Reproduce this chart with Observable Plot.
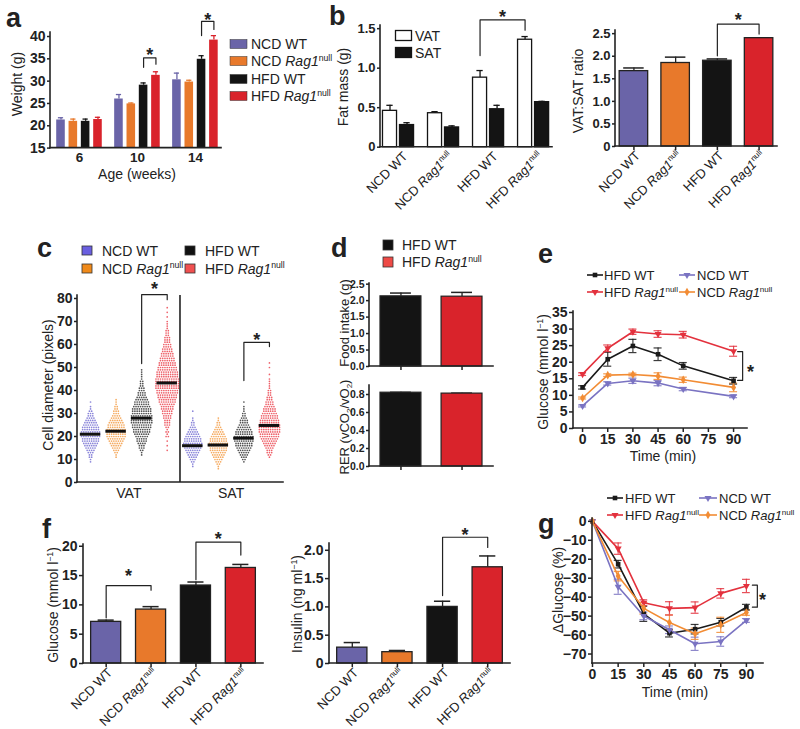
<!DOCTYPE html>
<html><head><meta charset="utf-8">
<script src="https://cdn.jsdelivr.net/npm/d3@7"></script>
<script src="https://cdn.jsdelivr.net/npm/@observablehq/plot@0.6"></script>
<style>
html,body{margin:0;padding:0;background:#fff;}
#fig{position:relative;width:800px;height:729px;overflow:hidden;font-family:"Liberation Sans",Arial,Helvetica,sans-serif;color:#222;background:#fff;}
#fig svg{position:absolute;overflow:visible;background:none;}
#fig g[aria-label$="tick"]{stroke-width:1.5px;}
</style></head><body><div id="fig"></div>
<script>
// ---------------- DATA ----------------
const groups = ["NCD WT", "NCD Rag1null", "HFD WT", "HFD Rag1null"];
const groupColors = ["#6a64a8", "#e8792b", "#141414", "#d9232b"];

// (a) body weight by age
const ages = [6, 10, 14];
const weightWk6 = [21.3, 21.0, 21.0, 21.4];
const weightWk10 = [26.0, 24.9, 29.1, 31.3];
const weightWk14 = [30.3, 29.8, 34.9, 39.2];
const weightErrWk6 = [0.5, 0.5, 0.5, 0.5];
const weightErrWk10 = [1.0, 0.2, 0.5, 0.8];
const weightErrWk14 = [1.5, 0.4, 0.8, 1.0];
const weightTicks = [15, 20, 25, 30, 35, 40];
const weightSig = [
  {age: 1, left: 33.1, top: 35.2, right: 33.8, star: 36.7},
  {age: 2, left: 40.2, top: 43.4, right: 41.6, star: 44.6}
];

// (b) fat mass and VAT:SAT ratio
const vatMass = [0.46, 0.43, 0.88, 1.36];
const vatErr = [0.07, 0.02, 0.09, 0.04];
const satMass = [0.28, 0.25, 0.48, 0.57];
const satErr = [0.03, 0.02, 0.05, 0.01];
const fatTicks = [0, 0.5, 1.0, 1.5];
const fatSig = [{from: 2, to: 3, left: 1.16, top: 1.61, right: 1.48, star: 1.70}];
const ratioVals = [1.67, 1.85, 1.90, 2.40];
const ratioErr = [0.07, 0.13, 0.04, 0.01];
const ratioTicks = [0, 0.5, 1.0, 1.5, 2.0, 2.5];
const ratioSig = [{from: "HFD WT", to: "HFD Rag1null", left: 2.01, top: 2.71, right: 2.49, star: 2.90}];

// (c) adipocyte diameter: number of cells per diameter (pixels), from the start value up
const depots = ["VAT", "SAT"];
const cellStart = [9, 11, 12, 14, 7, 6, 9, 11];
const cellVatNcdWt = [1,1,2,2,3,4,5,6,7,8,8,9,9,9,8,8,7,6,5,4,3,3,2,1,1,0,1];
const cellVatNcdRag = [1,1,2,3,4,5,6,7,8,9,9,9,9,8,8,7,6,5,4,3,3,2,2,1,1,1];
const cellVatHfdWt = [1,1,2,3,3,4,5,5,6,7,8,8,9,9,10,10,10,10,9,9,9,8,7,7,6,5,4,4,3,3,2,2,2,1,1,1,1,1];
const cellVatHfdRag = [1,0,1,0,1,0,2,1,2,1,2,3,3,3,4,4,5,5,6,6,7,8,8,9,9,10,10,11,11,11,11,11,10,10,10,9,9,8,8,7,7,6,6,5,5,4,4,3,3,3,2,2,2,1,1,1,1,0,1,0,1,0,1];
const cellSatNcdWt = [1,1,2,3,4,5,6,7,8,9,9,8,8,7,6,5,4,3,2,2,1,1,0,0,1];
const cellSatNcdRag = [1,1,2,3,4,5,6,7,8,8,9,9,8,8,7,6,5,4,3,2,2,1,1];
const cellSatHfdWt = [1,2,3,4,5,6,7,8,8,9,9,9,8,8,7,6,5,4,4,3,2,2,1,1,1,0,1];
const cellSatHfdRag = [1,2,3,3,4,5,6,7,8,9,9,10,10,10,10,9,9,8,8,7,6,6,5,4,4,3,3,2,2,2,1,1,1,1,1,0,1,0,0,1,0,1];
const cellMeans = [21.0, 22.3, 28.0, 43.3, 16.0, 16.3, 19.3, 24.8];
const cellColors = ["#6d66cf", "#f2963a", "#262626", "#ea3a45"];
const cellTicks = [0, 10, 20, 30, 40, 50, 60, 70, 80];
const cellSig = [
  {from: 2, to: 3, left: 51.7, top: 81.7, right: 79.5, star: 85.7},
  {from: 6, to: 7, left: 44.3, top: 60.9, right: 59.1, star: 63.9}
];

// (d) food intake and RER
const hfdGroups = ["HFD WT", "HFD Rag1null"];
const hfdColors = ["#141414", "#d9232b"];
const foodIntake = [2.13, 2.12];
const foodErr = [0.10, 0.13];
const foodTicks = [0, 0.5, 1.0, 1.5, 2.0, 2.5];
const rerVals = [0.82, 0.81];
const rerErr = [0.004, 0.005];
const rerTicks = [0, 0.2, 0.4, 0.6, 0.8];

// (e) glucose tolerance test
const lineSeries = ["HFD WT", "HFD Rag1null", "NCD WT", "NCD Rag1null"];
const lineColors = ["#1a1a1a", "#e3313d", "#7a73c2", "#f28c34"];
const lineSymbols = ["square", "triangle", "triangle", "diamond"];
const lineRotate = [0, 180, 180, 0];
const gttTimes = [0, 15, 30, 45, 60, 90];
const gttHfdWt = [12.4, 20.9, 24.9, 22.4, 18.9, 14.4];
const gttHfdRag = [16.4, 24.2, 29.2, 28.5, 28.3, 23.3];
const gttNcdWt = [6.8, 13.6, 14.4, 13.7, 11.9, 9.7];
const gttNcdRag = [9.2, 16.1, 16.3, 15.8, 14.7, 12.4];
const gttHfdWtErr = [0.5, 2.1, 2.0, 1.9, 1.0, 1.0];
const gttHfdRagErr = [0.4, 1.0, 0.8, 1.0, 1.0, 1.5];
const gttNcdWtErr = [0.3, 0.5, 0.8, 0.8, 0.5, 0.4];
const gttNcdRagErr = [0.3, 0.4, 0.4, 1.0, 0.8, 1.3];
const gttTicksY = [0, 5, 10, 15, 20, 25, 30, 35];
const timeTicks = [0, 15, 30, 45, 60, 75, 90];

// (f) fasting glucose and insulin
const fastGlucose = [7.1, 9.2, 13.3, 16.3];
const fastGlucoseErr = [0.3, 0.5, 0.6, 0.6];
const fastGlucoseTicks = [0, 5, 10, 15, 20];
const fastGlucoseSig = [
  {from: "NCD WT", to: "NCD Rag1null", left: 7.8, top: 13.3, right: 12.5, star: 15.7},
  {from: "HFD WT", to: "HFD Rag1null", left: 14.3, top: 20.7, right: 18.5, star: 22.0}
];
const insulinVals = [0.28, 0.20, 1.00, 1.70];
const insulinErr = [0.09, 0.03, 0.10, 0.20];
const insulinTicks = [0, 0.5, 1.0, 1.5, 2.0];
const insulinSig = [{from: "HFD WT", to: "HFD Rag1null", left: 1.2, top: 2.23, right: 2.05, star: 2.34}];

// (g) insulin tolerance test
const ittTimes = [0, 15, 30, 45, 60, 75, 90];
const ittHfdWt = [0, -22.6, -48.8, -59.0, -56.9, -53.2, -45.3];
const ittHfdRag = [0, -14.4, -42.9, -45.9, -45.5, -38.0, -34.1];
const ittNcdWt = [0, -34.5, -49.9, -57.2, -64.6, -63.4, -52.3];
const ittNcdRag = [0, -28.9, -45.9, -53.4, -59.3, -54.6, -48.1];
const ittHfdWtErr = [0, 2.0, 4.0, 2.0, 2.5, 2.0, 1.5];
const ittHfdRagErr = [0, 3.0, 1.5, 3.5, 3.0, 2.5, 3.5];
const ittNcdWtErr = [0, 4.0, 2.0, 2.0, 3.5, 2.5, 1.0];
const ittNcdRagErr = [0, 2.5, 3.0, 4.0, 3.0, 4.0, 1.5];
const ittTicksY = [0, -10, -20, -30, -40, -50, -60, -70];

// ---------------- HELPERS ----------------
const NS = "http://www.w3.org/2000/svg";
const root = document.getElementById("fig");
const FONT = '"Liberation Sans", Arial, Helvetica, sans-serif';
const AX = "#222";
const fmt0 = d => d === 0 ? "0" : d.toFixed(1);
const fmt1 = d => d.toFixed(1);
const rich = s => s.replace("Rag1null", "_Rag1_^null^");

function fillRich(t, s, size) {
  const parts = s.split(/(_[^_]+_|\^[^^]+\^|~[^~]+~)/).filter(p => p);
  let shift = 0;
  for (const p of parts) {
    const ts = document.createElementNS(NS, "tspan");
    let dy = 0, txt = p;
    if (p[0] === "_") { txt = p.slice(1, -1); ts.setAttribute("font-style", "italic"); dy = -shift; shift = 0; }
    else if (p[0] === "^") { txt = p.slice(1, -1); ts.setAttribute("font-size", size * 0.62); dy = -size * 0.38 - shift; shift = -size * 0.38; }
    else if (p[0] === "~") { txt = p.slice(1, -1); ts.setAttribute("font-size", size * 0.62); dy = size * 0.22 - shift; shift = size * 0.22; }
    else { dy = -shift; shift = 0; }
    if (dy) ts.setAttribute("dy", dy);
    ts.textContent = txt;
    t.appendChild(ts);
  }
}
function richify(svg, size) {
  svg.querySelectorAll("text").forEach(t => {
    if (t.querySelector("tspan")) return;
    const s = t.textContent;
    if (!/[_^~]/.test(s)) return;
    t.textContent = "";
    fillRich(t, s, size);
  });
}
function addLine(g, x1, y1, x2, y2) {
  const l = document.createElementNS(NS, "line");
  l.setAttribute("x1", x1); l.setAttribute("y1", y1); l.setAttribute("x2", x2); l.setAttribute("y2", y2);
  g.appendChild(l);
}
function chart(frame, opts, {xBold = false, xSize = 13, ySize = 13} = {}) {
  const pad = {t: 40, r: 40, b: 90, l: 50};
  const [x0, x1, y0, y1] = frame;
  const w = x1 - x0 + pad.l + pad.r, h = y1 - y0 + pad.t + pad.b;
  const svg = Plot.plot({
    width: w, height: h,
    marginTop: pad.t, marginRight: pad.r, marginBottom: pad.b, marginLeft: pad.l,
    style: {fontFamily: FONT, background: "none", color: AX, overflow: "visible"},
    ...opts
  });
  svg.style.position = "absolute";
  svg.style.left = (x0 - pad.l) + "px";
  svg.style.top = (y0 - pad.t) + "px";
  svg.style.maxWidth = "none";
  svg.style.background = "none";
  const g = document.createElementNS(NS, "g");
  g.setAttribute("stroke", AX); g.setAttribute("stroke-width", 1.6); g.setAttribute("stroke-linecap", "square");
  addLine(g, pad.l, pad.t, pad.l, h - pad.b);
  addLine(g, pad.l, h - pad.b, w - pad.r, h - pad.b);
  svg.appendChild(g);
  svg.querySelectorAll('g[aria-label="y-axis tick label"]').forEach(n => { n.style.fontWeight = "bold"; n.style.fontSize = ySize + "px"; });
  svg.querySelectorAll('g[aria-label="x-axis tick label"]').forEach(n => { n.style.fontWeight = xBold ? "bold" : "normal"; n.style.fontSize = xSize + "px"; });
  root.appendChild(svg);
  richify(svg, xSize);
  return svg;
}
const bracketRows = list => list.flatMap((b, k) => b.map(([x, y]) => ({k, x, y})));
const star = (data, x, extra = {}) => Plot.text(data, {x, y: "star", text: () => "*", fontSize: 18, fontWeight: "bold", fill: AX, dy: 4.3, ...extra});
const brLine = rows => Plot.line(rows, {x: "x", y: "y", z: "k", stroke: AX, strokeWidth: 1.2});
const rotLabels = (extra = {}) => Plot.axisX({tickFormat: rich, tickRotate: -45, tickSize: 0, tickPadding: 7, fontSize: 13, label: null, dx: 4, ...extra});

// ---------------- (a) ----------------
const aOff = [-0.319, -0.106, 0.106, 0.319], aHalf = 0.074;
const weightMeans = [weightWk6, weightWk10, weightWk14];
const weightErrs = [weightErrWk6, weightErrWk10, weightErrWk14];
const weightRows = ages.flatMap((age, ai) => groups.map((g, gi) => ({x: ai + aOff[gi], v: weightMeans[ai][gi], e: weightErrs[ai][gi], c: groupColors[gi]})));
chart([50, 221, 31.7, 147.3], {
  x: {type: "linear", domain: [-0.5, 2.45]},
  y: {domain: [15, 40.9]},
  marks: [
    Plot.ruleX(weightRows, {x: "x", y1: "v", y2: d => d.v + d.e, stroke: "c", strokeWidth: 1.3}),
    Plot.ruleY(weightRows, {x1: d => d.x - 0.045, x2: d => d.x + 0.045, y: d => d.v + d.e, stroke: "c", strokeWidth: 1.3}),
    Plot.rect(weightRows, {x1: d => d.x - aHalf, x2: d => d.x + aHalf, y1: 15, y2: "v", fill: "c"}),
    brLine(bracketRows(weightSig.map(s => [[s.age + aOff[2], s.left], [s.age + aOff[2], s.top], [s.age + aOff[3], s.top], [s.age + aOff[3], s.right]]))),
    star(weightSig, s => s.age + (aOff[2] + aOff[3]) / 2),
    Plot.axisY({ticks: weightTicks, tickSize: 3, tickPadding: 2, fontSize: 14, label: null}),
    Plot.axisX({ticks: [0, 1, 2], tickFormat: i => String(ages[i]), tickSize: 0, tickPadding: 4, fontSize: 13, label: null})
  ]
}, {xBold: true, xSize: 13.5, ySize: 14});

// ---------------- (b) left ----------------
const bOff = [-0.189, 0.189], bHalf = 0.156;
const fatRows = groups.flatMap((g, gi) => [
  {x: gi + bOff[0], v: vatMass[gi], e: vatErr[gi], c: "#ffffff"},
  {x: gi + bOff[1], v: satMass[gi], e: satErr[gi], c: "#141414"}
]);
chart([380, 552, 25, 146.7], {
  x: {type: "linear", domain: [-0.4, 3.42]},
  y: {domain: [0, 1.54]},
  marks: [
    Plot.ruleX(fatRows, {x: "x", y1: "v", y2: d => d.v + d.e, stroke: "#141414", strokeWidth: 1.3}),
    Plot.ruleY(fatRows, {x1: d => d.x - 0.07, x2: d => d.x + 0.07, y: d => d.v + d.e, stroke: "#141414", strokeWidth: 1.3}),
    Plot.rect(fatRows, {x1: d => d.x - bHalf, x2: d => d.x + bHalf, y1: 0, y2: "v", fill: "c", stroke: "#141414", strokeWidth: 1.3}),
    brLine(bracketRows(fatSig.map(s => [[s.from + bOff[0], s.left], [s.from + bOff[0], s.top], [s.to + bOff[0], s.top], [s.to + bOff[0], s.right]]))),
    star(fatSig, s => (s.from + s.to) / 2 + bOff[0]),
    Plot.axisY({ticks: fatTicks, tickFormat: fmt0, tickSize: 3, tickPadding: 2, fontSize: 13, label: null}),
    rotLabels({ticks: [0, 1, 2, 3], tickFormat: i => rich(groups[i]), dx: 7})
  ]
});

// ---------------- (b) right ----------------
const ratioRows = groups.map((g, i) => ({g, v: ratioVals[i], e: ratioErr[i], c: groupColors[i]}));
chart([615, 777, 30, 146], {
  x: {type: "band", domain: groups, paddingInner: 0.317, paddingOuter: 0.1, round: false},
  y: {domain: [0, 2.57]},
  marks: [
    Plot.ruleX(ratioRows, {x: "g", y1: "v", y2: d => d.v + d.e, stroke: "#222", strokeWidth: 1.3}),
    Plot.tickY(ratioRows, {x: "g", y: d => d.v + d.e, insetLeft: 4, insetRight: 4, stroke: "#222", strokeWidth: 1.3}),
    Plot.barY(ratioRows, {x: "g", y: "v", fill: "c", stroke: "#222", strokeWidth: 1.3}),
    brLine(bracketRows(ratioSig.map(s => [[s.from, s.left], [s.from, s.top], [s.to, s.top], [s.to, s.right]]))),
    star(ratioSig, "from", {dx: 20.9}),
    Plot.axisY({ticks: ratioTicks, tickFormat: fmt0, tickSize: 3, tickPadding: 2, fontSize: 13, label: null}),
    Plot.axisX({tickFormat: () => "", tickSize: 4, label: null}),
    rotLabels()
  ]
});

// ---------------- (c) ----------------
const cellCounts = [cellVatNcdWt, cellVatNcdRag, cellVatHfdWt, cellVatHfdRag, cellSatNcdWt, cellSatNcdRag, cellSatHfdWt, cellSatHfdRag];
const cellStep = 0.088;
const cellDots = cellCounts.flatMap((counts, gi) => counts.flatMap((n, j) =>
  Array.from({length: n}, (_, k) => ({x: gi + (k - (n - 1) / 2) * cellStep, y: cellStart[gi] + j, c: cellColors[gi % 4]}))));
const cellMeanRows = cellMeans.map((m, gi) => ({gi, m}));
chart([77, 283, 295, 482], {
  x: {type: "linear", domain: [-0.51, 7.55]},
  y: {domain: [0, 81.3]},
  marks: [
    Plot.dot(cellDots, {x: "x", y: "y", r: 0.85, fill: "c", fillOpacity: 0.8}),
    Plot.ruleY(cellMeanRows, {x1: d => d.gi - 0.4, x2: d => d.gi + 0.4, y: "m", stroke: "#111", strokeWidth: 3}),
    Plot.ruleX([3.5], {y1: 0, y2: 81.3, stroke: AX, strokeWidth: 1.6}),
    brLine(bracketRows(cellSig.map(s => [[s.from, s.left], [s.from, s.top], [s.to, s.top], [s.to, s.right]]))),
    star(cellSig, s => (s.from + s.to) / 2),
    Plot.axisY({ticks: cellTicks, tickSize: 3, tickPadding: 2, fontSize: 14, label: null}),
    Plot.axisX({ticks: [1.5, 5.5], tickFormat: d => depots[d < 3.5 ? 0 : 1], tickSize: 0, tickPadding: 6, fontSize: 14, label: null})
  ]
}, {xSize: 14, ySize: 14});

// ---------------- (d) ----------------
const foodRows = hfdGroups.map((g, i) => ({g, v: foodIntake[i], e: foodErr[i], c: hfdColors[i]}));
const rerRows = hfdGroups.map((g, i) => ({g, v: rerVals[i], e: rerErr[i], c: hfdColors[i]}));
const dBand = {type: "band", domain: hfdGroups, paddingInner: 0.33, paddingOuter: 0.18, round: false};
function dChart(frame, rows, domain, ticks) {
  chart(frame, {
    x: dBand, y: {domain},
    marks: [
      Plot.ruleX(rows, {x: "g", y1: "v", y2: d => d.v + d.e, stroke: "#222", strokeWidth: 1.3}),
      Plot.tickY(rows, {x: "g", y: d => d.v + d.e, insetLeft: 10, insetRight: 10, stroke: "#222", strokeWidth: 1.3}),
      Plot.barY(rows, {x: "g", y: "v", fill: "c", stroke: "#222", strokeWidth: 1.2}),
      Plot.axisY({ticks, tickFormat: fmt1, tickSize: 3, tickPadding: 2, fontSize: 10, label: null}),
      Plot.axisX({tickFormat: () => "", tickSize: 4, label: null})
    ]
  }, {ySize: 10.5});
}
dChart([369, 493, 283, 366], foodRows, [0, 2.52], foodTicks);
dChart([369, 493, 385, 466], rerRows, [0, 0.9], rerTicks);

// ---------------- (e) and (g) line charts ----------------
function lineRows(times, values, errs) {
  return lineSeries.flatMap((s, si) => times.map((t, ti) => ({s, t, v: values[si][ti], e: errs[si][ti], c: lineColors[si], sym: lineSymbols[si], rot: lineRotate[si]})));
}
function lineMarks(rows, cap) {
  const er = rows.filter(d => d.e > 0);
  return [
    Plot.ruleX(er, {x: "t", y1: d => d.v - d.e, y2: d => d.v + d.e, stroke: "c", strokeWidth: 1.2, strokeOpacity: 0.85}),
    Plot.ruleY(er, {x1: d => d.t - cap, x2: d => d.t + cap, y: d => d.v + d.e, stroke: "c", strokeWidth: 1.2, strokeOpacity: 0.85}),
    Plot.ruleY(er, {x1: d => d.t - cap, x2: d => d.t + cap, y: d => d.v - d.e, stroke: "c", strokeWidth: 1.2, strokeOpacity: 0.85}),
    Plot.line(rows, {x: "t", y: "v", z: "s", stroke: "c", strokeWidth: 1.6}),
    Plot.dot(rows, {x: "t", y: "v", symbol: "sym", fill: "c", r: 2.6, rotate: "rot"})
  ];
}
const gttRows = lineRows(gttTimes, [gttHfdWt, gttHfdRag, gttNcdWt, gttNcdRag], [gttHfdWtErr, gttHfdRagErr, gttNcdWtErr, gttNcdRagErr]);
const gttSig = [{pts: [[92.4, 23.2], [95.4, 23.2], [95.4, 14.5], [92.4, 14.5]], x: 100.1, star: 18.4}];
chart([573, 747, 311, 428], {
  x: {type: "linear", domain: [-5.4, 98.3]},
  y: {domain: [0, 35.3]},
  marks: [
    ...lineMarks(gttRows, 2.4),
    brLine(bracketRows(gttSig.map(s => s.pts))),
    star(gttSig, "x"),
    Plot.axisY({ticks: gttTicksY, tickSize: 4, tickPadding: 2, fontSize: 14, label: null}),
    Plot.axisX({ticks: timeTicks, tickSize: 4, tickPadding: 2, fontSize: 14, label: null})
  ]
}, {xBold: true, xSize: 14, ySize: 14});

const ittRows = lineRows(ittTimes, [ittHfdWt, ittHfdRag, ittNcdWt, ittNcdRag], [ittHfdWtErr, ittHfdRagErr, ittNcdWtErr, ittNcdRagErr]);
const ittSig = [{pts: [[93.5, -33.7], [96.4, -33.7], [96.4, -45.3], [93.5, -45.3]], x: 99.4, star: -39.5}];
chart([592, 763, 518, 663], {
  x: {type: "linear", domain: [0, 100]},
  y: {domain: [-75, 1.5]},
  marks: [
    ...lineMarks(ittRows, 2.3),
    brLine(bracketRows(ittSig.map(s => s.pts))),
    star(ittSig, "x"),
    Plot.axisY({ticks: ittTicksY, tickSize: 4, tickPadding: 2, fontSize: 14, label: null}),
    Plot.axisX({ticks: timeTicks, tickSize: 4, tickPadding: 2, fontSize: 14, label: null})
  ]
}, {xBold: true, xSize: 14, ySize: 14});

// ---------------- (f) ----------------
const fBand = {type: "band", domain: groups, paddingInner: 0.33, paddingOuter: 0.17, round: false};
function fChart(frame, vals, errs, domain, ticks, tf, sig, dx) {
  const rows = groups.map((g, i) => ({g, v: vals[i], e: errs[i], c: groupColors[i]}));
  chart(frame, {
    x: fBand, y: {domain},
    marks: [
      Plot.ruleX(rows, {x: "g", y1: "v", y2: d => d.v + d.e, stroke: "#222", strokeWidth: 1.3}),
      Plot.tickY(rows, {x: "g", y: d => d.v + d.e, insetLeft: 7, insetRight: 7, stroke: "#222", strokeWidth: 1.3}),
      Plot.barY(rows, {x: "g", y: "v", fill: "c", stroke: "#222", strokeWidth: 1.3}),
      brLine(bracketRows(sig.map(s => [[s.from, s.left], [s.from, s.top], [s.to, s.top], [s.to, s.right]]))),
      star(sig, "from", {dx}),
      Plot.axisY({ticks, tickFormat: tf, tickSize: 4, tickPadding: 2, fontSize: 14, label: null}),
      Plot.axisX({tickFormat: () => "", tickSize: 4, label: null}),
      rotLabels()
    ]
  }, {ySize: 14});
}
fChart([83, 263, 544, 663], fastGlucose, fastGlucoseErr, [0, 20.3], fastGlucoseTicks, d => String(d), fastGlucoseSig, 22.4);
fChart([329, 510, 543, 663], insulinVals, insulinErr, [0, 2.12], insulinTicks, fmt0, insulinSig, 22.5);

// ---------------- overlay text, legends ----------------
const ov = document.createElementNS(NS, "svg");
ov.setAttribute("width", 800); ov.setAttribute("height", 729);
ov.style.cssText = "position:absolute;left:0;top:0;overflow:visible;pointer-events:none;font-family:" + FONT;
root.appendChild(ov);
function el(tag, attrs) { const e = document.createElementNS(NS, tag); for (const k in attrs) e.setAttribute(k, attrs[k]); ov.appendChild(e); return e; }
function T(str, x, y, {size = 13, weight = "normal", anchor = "start", rot = false} = {}) {
  const t = el("text", rot ? {transform: `translate(${x},${y}) rotate(-90)`, "text-anchor": "middle"} : {x, y, "text-anchor": anchor});
  t.setAttribute("font-size", size); t.setAttribute("font-weight", weight); t.setAttribute("fill", AX);
  fillRich(t, str, size);
}
// panel letters
[["a", 6, 27], ["b", 329, 25], ["c", 37, 257], ["d", 331, 257], ["e", 538, 263], ["f", 42, 538], ["g", 538, 533]]
  .forEach(([s, x, y]) => T(s, x, y, {size: 27, weight: "bold"}));

// axis titles
T("Weight (g)", 22, 84, {rot: true, size: 14});
T("Age (weeks)", 137, 179, {anchor: "middle", size: 14});
T("Fat mass (g)", 348, 87, {rot: true, size: 14});
T("VAT:SAT ratio", 583, 91, {rot: true, size: 14});
T("Cell diameter (pixels)", 53, 385, {rot: true, size: 14});
T("Food intake (g)", 349, 323, {rot: true, size: 13});
T("RER (vCO~2~/vO~2~)", 349, 427, {rot: true, size: 13});
T("Glucose (mmol l^−1^)", 548, 372, {rot: true, size: 14});
T("Time (min)", 663, 461, {anchor: "middle", size: 14});
T("Glucose (mmol l^−1^)", 58, 605, {rot: true, size: 14});
T("Insulin (ng ml^−1^)", 302, 604, {rot: true, size: 14});
T("ΔGlucose (%)", 563, 590, {rot: true, size: 14});
T("Time (min)", 675, 697, {anchor: "middle", size: 14});

// (a) legend
[44, 61, 79, 96].forEach((y, i) => {
  el("rect", {x: 230, y: y - 4.5, width: 17, height: 9, fill: groupColors[i], stroke: "#333", "stroke-width": 0.5});
  T(rich(groups[i]), 251, y + 5, {size: 14});
});
// (b) legend
el("rect", {x: 395.5, y: 30.5, width: 16, height: 10, fill: "#fff", stroke: "#141414", "stroke-width": 1.3});
el("rect", {x: 395.5, y: 47.5, width: 16, height: 10, fill: "#141414", stroke: "#141414", "stroke-width": 1.3});
T("VAT", 415, 40.5, {size: 14});
T("SAT", 415, 57.5, {size: 14});
// (c) legend
[[0, 82, 250.5], [1, 82, 268.5], [2, 185, 250.5], [3, 185, 268.5]].forEach(([i, x, y]) => {
  el("rect", {x, y: y - 4.5, width: 10, height: 9, fill: ["#6a5fe0", "#f08a1a", "#111", "#f05050"][i], stroke: "#333", "stroke-width": 0.8});
  T(rich(groups[i]), x + 20, y + 5, {size: 14});
});
// (d) legend
[[0, 245], [1, 262]].forEach(([i, y]) => {
  el("rect", {x: 383, y: y - 5, width: 10, height: 10, fill: ["#111", "#ee4a46"][i], stroke: "#333", "stroke-width": 0.8});
  T(rich(hfdGroups[i]), 402, y + 5, {size: 14});
});
// (e), (g) legends
const symType = {square: d3.symbolSquare, triangle: d3.symbolTriangle, diamond: d3.symbolDiamond};
function lineLegend(i, x1, x2, y, tx) {
  el("line", {x1, y1: y, x2, y2: y, stroke: lineColors[i], "stroke-width": 1.6});
  el("path", {d: d3.symbol(symType[lineSymbols[i]], 21)(), transform: `translate(${(x1 + x2) / 2},${y}) rotate(${lineRotate[i]})`, fill: lineColors[i]});
  T(rich(lineSeries[i]), tx, y + 4.7, {size: 13});
}
lineLegend(0, 587, 603, 275, 604); lineLegend(2, 679, 695, 275, 697);
lineLegend(1, 587, 603, 292, 604); lineLegend(3, 679, 695, 292, 697);
lineLegend(0, 607, 623, 498, 625); lineLegend(2, 699, 717, 498, 719);
lineLegend(1, 607, 623, 515, 625); lineLegend(3, 699, 717, 515, 719);
</script></body></html>
